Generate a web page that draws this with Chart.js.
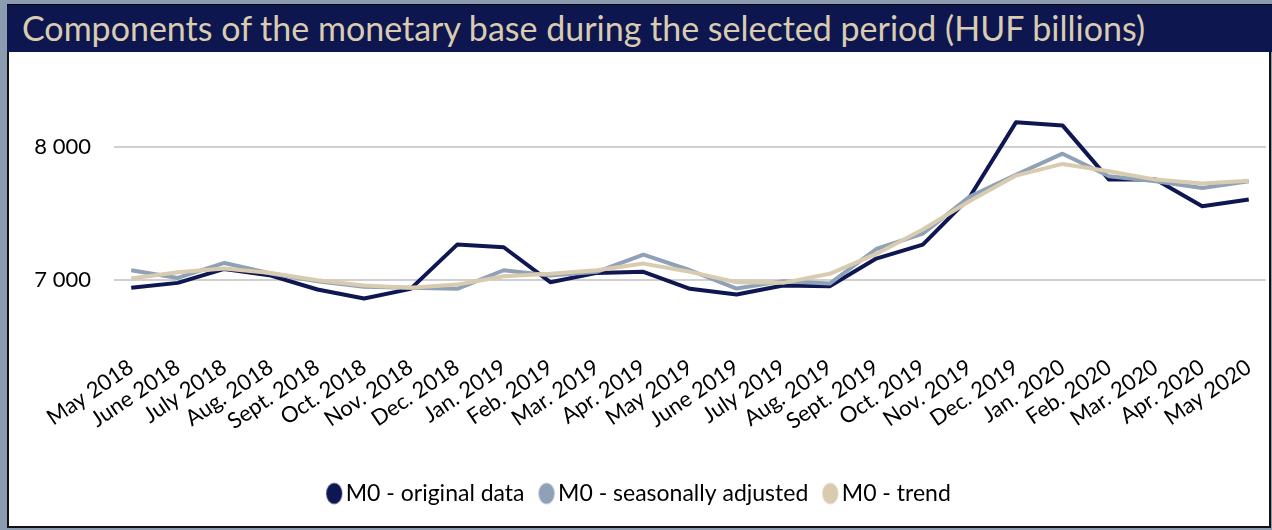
<!DOCTYPE html>
<html>
<head>
<meta charset="utf-8">
<script src="https://cdn.jsdelivr.net/npm/chart.js@4.4.1/dist/chart.umd.min.js"></script>
<style>
  html, body { margin: 0; padding: 0; }
  body { width: 1272px; height: 530px; background: #8c9cb0; position: relative; overflow: hidden; font-family: Lato, "Open Sans", sans-serif; }
  #title { position: absolute; left: 7px; top: 4px; width: 1265px; height: 48px; background: #0e1650; border-top: 1px solid #000; box-sizing: border-box; color: #d9ccb0; font-size: 34px; line-height: 46px; padding-left: 15px; white-space: nowrap; }
  #panel { position: absolute; left: 7px; top: 52px; width: 1264px; height: 476px; background: #fff; border-left: 2px solid #111; border-right: 2px solid #111; border-bottom: 2px solid #111; box-sizing: border-box; }
  #chart { position: absolute; left: 9px; top: 44px; }
</style>
</head>
<body>
<div id="title">Components of the monetary base during the selected period (HUF billions)</div>
<div id="panel"></div>
<canvas id="chart" width="1259" height="481"></canvas>
<script>
const months = ["May 2018", "June 2018", "July 2018", "Aug. 2018", "Sept. 2018", "Oct. 2018", "Nov. 2018", "Dec. 2018",
  "Jan. 2019", "Feb. 2019", "Mar. 2019", "Apr. 2019", "May 2019", "June 2019", "July 2019", "Aug. 2019", "Sept. 2019",
  "Oct. 2019", "Nov. 2019", "Dec. 2019", "Jan. 2020", "Feb. 2020", "Mar. 2020", "Apr. 2020", "May 2020"]

const m0Original = [6938, 6975, 7080, 7030, 6925, 6857, 6930, 7263, 7243, 6980, 7050, 7058, 6930,
  6887, 6955, 6950, 7158, 7263, 7617, 8183, 8160, 7752, 7752, 7551, 7602]
const m0Seasonal = [7070, 7012, 7125, 7045, 6987, 6945, 6938, 6930, 7070, 7030, 7058, 7188, 7070,
  6932, 6988, 6970, 7230, 7346, 7622, 7789, 7947, 7777, 7739, 7689, 7739]
const m0Trend = [7008, 7055, 7083, 7050, 6995, 6955, 6938, 6962, 7025, 7043, 7070, 7120, 7058,
  6980, 6975, 7043, 7193, 7376, 7589, 7782, 7870, 7815, 7752, 7722, 7744]

const yTicks = [7000, 8000]

const navy = "#0f1752"
const steel = "#8fa1b6"
const sand = "#d8cbaf"

function toPoints(values) {
  return values.map((v, i) => ({ x: i, y: v }))
}

// legend marker: tall ellipse, drawn a bit to the right so it sits close to the text
function ellipseMark(color) {
  const c = document.createElement("canvas")
  c.width = 30
  c.height = 24
  const g = c.getContext("2d")
  g.fillStyle = color
  g.beginPath()
  g.ellipse(20, 12, 8, 10.5, 0, 0, Math.PI * 2)
  g.fill()
  return c
}

function fmt(v) {
  return String(v).replace(/\B(?=(\d{3})+(?!\d))/g, " ")
}

const ctx = document.getElementById("chart").getContext("2d")
new Chart(ctx, {
  type: "line",
  data: {
    datasets: [
      { label: "M0 - original data", data: toPoints(m0Original), borderColor: navy, backgroundColor: navy, order: 3, pointStyle: ellipseMark(navy) },
      { label: "M0 - seasonally adjusted", data: toPoints(m0Seasonal), borderColor: steel, backgroundColor: steel, order: 2, pointStyle: ellipseMark(steel) },
      { label: "M0 - trend", data: toPoints(m0Trend), borderColor: sand, backgroundColor: sand, order: 1, pointStyle: ellipseMark(sand) }
    ]
  },
  options: {
    responsive: false,
    animation: false,
    elements: {
      line: { borderWidth: 4, tension: 0, borderJoinStyle: "round", fill: false },
      point: { radius: 0, hoverRadius: 0 }
    },
    // chart area top comes from the y tick padding (label half height + 23)
    layout: { padding: { left: 0, right: 2, top: 0, bottom: 10 } },
    plugins: {
      tooltip: { enabled: false },
      legend: {
        position: "bottom",
        labels: {
          usePointStyle: true,
          pointStyleWidth: 10,
          padding: 12,
          color: "#000",
          font: { family: "Lato", size: 23 },
          sort: (a, b) => a.datasetIndex - b.datasetIndex
        }
      }
    },
    scales: {
      x: {
        type: "linear",
        min: -0.37,
        max: 24.37,
        grid: { display: false },
        border: { display: false },
        afterBuildTicks: s => { s.ticks = months.map((m, i) => ({ value: i })) },
        afterFit: s => { s.height = 124 },
        ticks: {
          autoSkip: false,
          minRotation: 34,
          maxRotation: 34,
          padding: 0,
          color: "#000",
          font: { family: "Lato", size: 22 },
          callback: v => months[v]
        }
      },
      y: {
        min: 6500,
        max: 8500,
        afterBuildTicks: s => { s.ticks = yTicks.map(v => ({ value: v })) },
        afterFit: s => { s.width = 105 },
        grid: { color: "#d0d0d0", lineWidth: 2, drawTicks: false },
        border: { display: false },
        ticks: {
          padding: 23,
          color: "#000",
          font: { family: "Lato", size: 22 },
          callback: v => fmt(v)
        }
      }
    }
  }
})
</script>
</body>
</html>
